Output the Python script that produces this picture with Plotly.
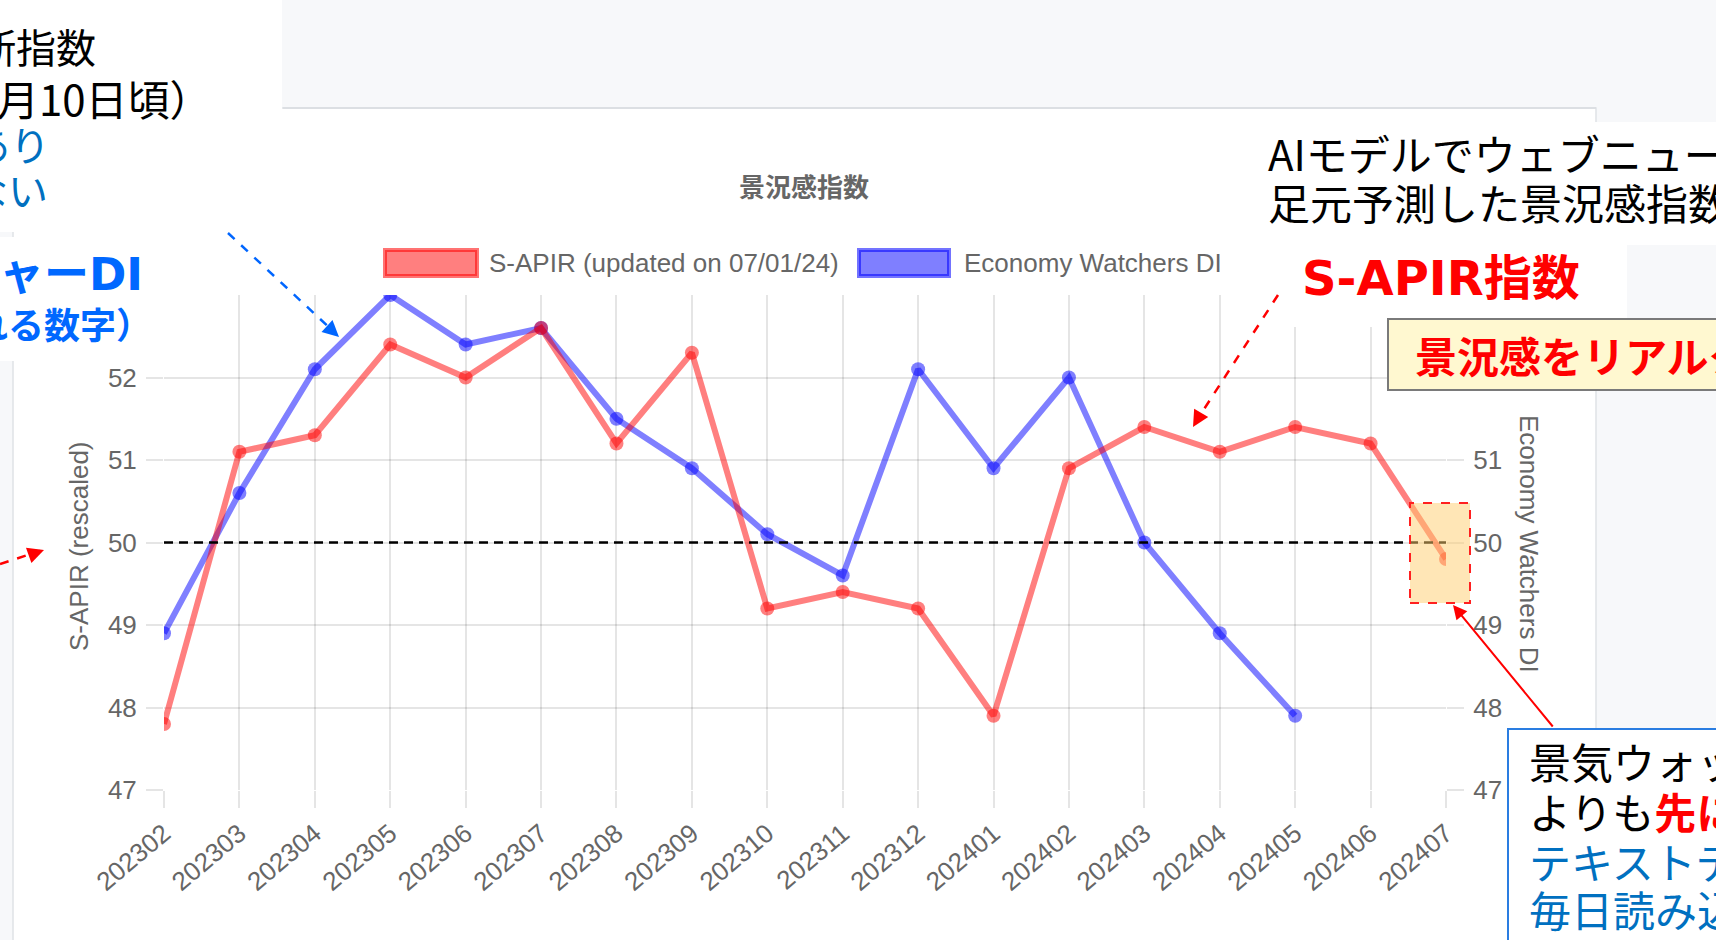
import plotly.graph_objects as go

# ---------------- data ----------------
months = ["202302", "202303", "202304", "202305", "202306", "202307", "202308",
          "202309", "202310", "202311", "202312", "202401", "202402", "202403",
          "202404", "202405", "202406", "202407"]
sapir = [47.8, 51.1, 51.3, 52.4, 52.0, 52.6, 51.2, 52.3, 49.2, 49.4, 49.2, 47.9,
         50.9, 51.4, 51.1, 51.4, 51.2, 49.8]
ew_di = [48.9, 50.6, 52.1, 53.0, 52.4, 52.6, 51.5, 50.9, 50.1, 49.6, 52.1, 50.9,
         52.0, 50.0, 48.9, 47.9]
threshold = [50, 50]
y_ticks = [47, 48, 49, 50, 51, 52, 53]
left_tick_text = ["47", "48", "49", "50", "51", "52", ""]     # 53 hidden under callout
right_tick_text = ["47", "48", "49", "50", "51", "", ""]      # 52/53 hidden under callouts

# ---------------- geometry helpers ----------------
W, H = 1716, 940
L, R, T, B = 164, 270, 295, 150
PW, PH = W - L - R, H - T - B


def px(x):
    return (x - L) / PW


def py(y):
    return 1 - (y - T) / PH


GRAY_TXT = "#666666"
CHART_FONT = "Liberation Sans, Arial, sans-serif"
JP_FONT = "Noto Sans CJK JP, sans-serif"
WIDE = "font-family:'DejaVu Sans'"
GRID = "rgba(0,0,0,0.1)"
PAGE_BG = "#f7f8fa"

fig = go.Figure()

fig.add_trace(go.Scatter(
    x=months[:len(ew_di)], y=ew_di, mode="lines+markers", name="Economy Watchers DI",
    line=dict(color="rgba(0,0,255,0.5)", width=6),
    marker=dict(color="rgba(0,0,255,0.5)", size=14),
    yaxis="y", hoverinfo="skip"))
fig.add_trace(go.Scatter(
    x=months, y=sapir, mode="lines+markers", name="S-APIR (updated on 07/01/24)",
    line=dict(color="rgba(255,0,0,0.5)", width=6),
    marker=dict(color="rgba(255,0,0,0.5)", size=14),
    yaxis="y", hoverinfo="skip"))
fig.add_trace(go.Scatter(
    x=[months[0], months[-1]], y=threshold, mode="lines",
    line=dict(color="black", width=2.5, dash="9px,6px"),
    yaxis="y2", hoverinfo="skip", showlegend=False))

shapes = []


def rect(x0, y0, x1, y1, fill, line_color=None, width=0, dash="solid", layer="above"):
    shapes.append(dict(type="rect", xref="paper", yref="paper",
                       x0=px(x0), x1=px(x1), y0=py(y1), y1=py(y0),
                       fillcolor=fill, layer=layer,
                       line=dict(color=line_color or "rgba(0,0,0,0)", width=width, dash=dash)))


def seg(x0, y0, x1, y1, color, width, dash="solid", layer="above"):
    shapes.append(dict(type="line", xref="paper", yref="paper",
                       x0=px(x0), x1=px(x1), y0=py(y0), y1=py(y1), layer=layer,
                       line=dict(color=color, width=width, dash=dash)))


# page / card background
rect(13, 108, 1596, 960, "white", "#dfe2e6", 1.5, layer="below")
seg(283, 108, 1596, 108, "#dcdfe3", 2, layer="below")
rect(-10, -10, 282, 232, "white", layer="below")
rect(1255, 122, 1730, 245, "white", layer="below")

# overlay boxes
rect(-10, 237, 167, 361, "white")
rect(1285, 245, 1627, 327, "white")
rect(1388, 319, 1730, 390, "#fff8d0", "#7a7a7a", 2)
rect(1508, 729, 1730, 960, "white", "#2a7de1", 2)
rect(1410, 503, 1470, 603, "rgba(255,205,110,0.5)", "#ff2020", 2, dash="dash")

# legend boxes
rect(385, 250, 477, 276, "rgba(255,0,0,0.5)", "rgba(255,0,0,0.55)", 4, layer="below")
rect(859, 250, 949, 276, "rgba(0,0,255,0.5)", "rgba(0,0,255,0.55)", 4, layer="below")

# dashed arrow shafts
seg(0, 564, 40, 551, "#ff0000", 2.5, dash="dash")
seg(228, 233, 333, 331, "#0066ff", 2.5, dash="dash")
seg(1278, 295, 1197, 420, "#ff0000", 2.5, dash="dash")

annotations = []


def text(x, y, s, size, color="black", anchor="left", bold=False, font=JP_FONT, angle=0):
    annotations.append(dict(
        xref="paper", yref="paper", x=px(x), y=py(y), text=("<b>%s</b>" % s) if bold else s,
        showarrow=False, xanchor=anchor, yanchor="middle", textangle=angle,
        font=dict(size=size, color=color, family=font)))


def arrow(x_tip, y_tip, x_tail, y_tail, color, width=2.5, size=1.3):
    annotations.append(dict(
        xref="paper", yref="paper", x=px(x_tip), y=py(y_tip), text="",
        showarrow=True, ax=x_tail - x_tip, ay=y_tail - y_tip, axref="pixel", ayref="pixel",
        arrowhead=2, arrowsize=size, arrowwidth=width, arrowcolor=color, standoff=0))


# chart title / legend text / axis titles
text(804, 186, "景況感指数", 26, GRAY_TXT, "center", bold=True)
text(487, 263, "S-APIR (updated on 07/01/24)", 26, GRAY_TXT, font=CHART_FONT)
text(962, 263, "Economy Watchers DI", 26, GRAY_TXT, font=CHART_FONT)
text(79, 546, "S-APIR (rescaled)", 26, GRAY_TXT, "center", font=CHART_FONT, angle=-90)
text(1529, 544, "Economy Watchers DI", 26, GRAY_TXT, "center", font=CHART_FONT, angle=90)

# slide callouts (left)
text(98, 46, "断指数", 40, "black", "right")
text(214, 98, "月10日頃）", 42, "black", "right")
text(52, 144, "あり", 40, "#0070c0", "right")
text(50, 189, "ない", 40, "#0070c0", "right")
text(145, 271, "ャー<span style=\"%s\">DI</span>" % WIDE, 45, "#0068ff", "right", bold=True)
text(154, 323, "れる数字）", 36, "#0068ff", "right", bold=True)

# slide callouts (right)
text(1266, 153, "AIモデルでウェブニュース", 42, "black")
text(1266, 202, "足元予測した景況感指数", 42, "black")
text(1300, 274, "<span style=\"%s\">S-APIR</span>指数" % WIDE, 48, "#ff0000", bold=True)
text(1413, 354, "景況感をリアルタイム", 42, "#ff0000", bold=True)
text(1527, 760, "景気ウォッチ", 42, "black")
text(1527, 810, "よりも<b><span style='color:#ff0000'>先に</span></b>", 42, "black")
text(1527, 860, "テキストデータ", 42, "#0070c0")
text(1527, 908, "毎日読み込み", 42, "#0070c0")

# arrow heads
arrow(44, 550, 30, 555, "#ff0000")
arrow(339, 337, 327, 326, "#0066ff")
arrow(1193, 427, 1200, 415, "#ff0000")
arrow(1453, 605, 1554, 728, "#ff0000", width=2, size=1.4)

axis_common = dict(
    showgrid=True, gridcolor=GRID, gridwidth=2, zeroline=False, showline=False,
    ticks="outside", ticklen=17, tickwidth=2, tickcolor=GRID,
    tickfont=dict(size=26, color=GRAY_TXT, family=CHART_FONT))

fig.update_layout(
    width=W, height=H, margin=dict(l=L, r=R, t=T, b=B, autoexpand=False),
    paper_bgcolor=PAGE_BG, plot_bgcolor="rgba(0,0,0,0)", showlegend=False,
    xaxis=dict(type="category", categoryorder="array", categoryarray=months,
               range=[0, len(months) - 1], tickangle=-40, **axis_common),
    yaxis=dict(range=[y_ticks[0], y_ticks[-1]], tickvals=y_ticks, ticktext=left_tick_text,
               ticklabelstandoff=4, **axis_common),
    yaxis2=dict(range=[y_ticks[0], y_ticks[-1]], tickvals=y_ticks, ticktext=right_tick_text,
                overlaying="y", side="right", ticklabelstandoff=4,
                **{**axis_common, "showgrid": False}),
    shapes=shapes, annotations=annotations)

fig.write_html("out.html", config={"displayModeBar": False},
               post_script="document.body.style.margin='0';document.body.style.overflow='hidden';")
